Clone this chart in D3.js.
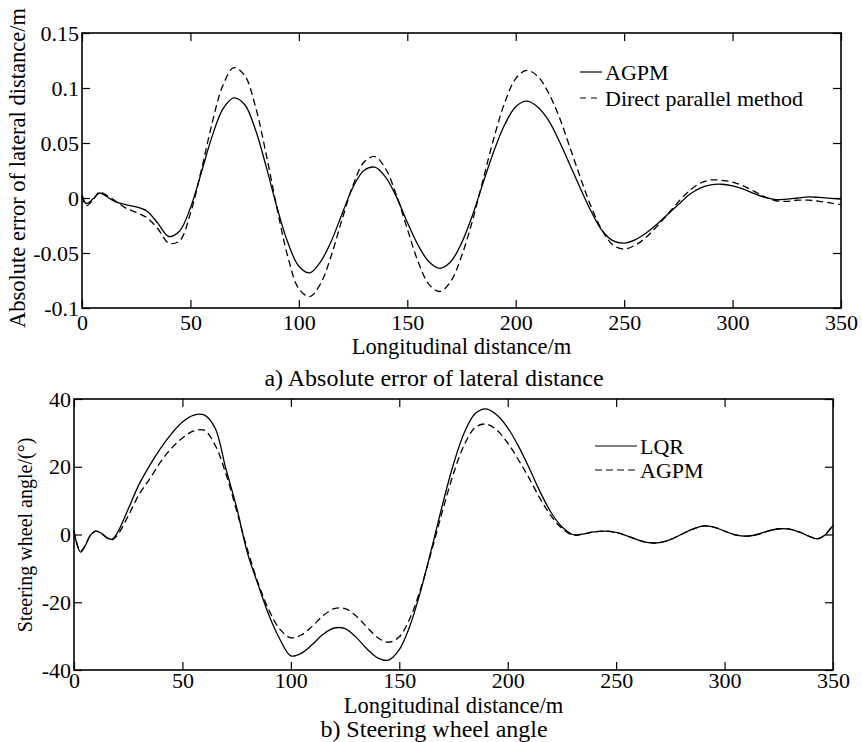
<!DOCTYPE html>
<html>
<head>
<meta charset="utf-8">
<script src="https://cdn.jsdelivr.net/npm/d3@7"></script>
<style>
  body { margin: 0; background: #fff; }
  svg { display: block; }
</style>
</head>
<body>
<div id="chart"></div>
<script>
// ---- data: a) absolute error of lateral distance ----
const errDist = [0, 2, 5, 8, 10, 15, 20, 25, 30, 35, 40, 45, 50, 55, 60, 65, 70, 75, 80, 85, 90, 95,
  100, 105, 110, 115, 120, 125, 130, 135, 140, 145, 150, 155, 160, 165, 170, 175, 180, 185, 190, 195,
  200, 205, 210, 215, 220, 225, 230, 235, 240, 245, 250, 255, 260, 265, 270, 275, 280, 285, 290, 295,
  300, 305, 310, 315, 320, 325, 330, 335, 340, 345, 350];
const errAGPM = [0.003, -0.005, -0.001, 0.0045, 0.003, -0.003, -0.006, -0.008, -0.012, -0.023, -0.035, -0.030,
  -0.009, 0.023, 0.056, 0.081, 0.091, 0.085, 0.062, 0.028, -0.009, -0.041,
  -0.062, -0.068, -0.058, -0.039, -0.014, 0.010, 0.025, 0.028, 0.019, 0.001, -0.022, -0.043, -0.058, -0.064,
  -0.058, -0.041, -0.016, 0.014, 0.043, 0.067,
  0.083, 0.088, 0.083, 0.071, 0.052, 0.030, 0.008, -0.013, -0.030, -0.039, -0.041, -0.038, -0.032, -0.024,
  -0.015, -0.006, 0.003, 0.009, 0.012, 0.0125,
  0.011, 0.008, 0.004, 0.0005, -0.0015, -0.001, 0.0, 0.001, 0.0005, -0.0003, -0.001];
const errDirect = [0.002, -0.007, -0.002, 0.0055, 0.004, -0.002, -0.009, -0.013, -0.018, -0.028, -0.041, -0.039,
  -0.014, 0.025, 0.068, 0.1025, 0.1185, 0.1115, 0.083, 0.039, -0.010, -0.054,
  -0.0825, -0.0897, -0.078, -0.052, -0.019, 0.0116, 0.0325, 0.0377, 0.0266, 0.0025, -0.028, -0.058, -0.0785, -0.085,
  -0.076, -0.053, -0.021, 0.017, 0.055, 0.087,
  0.1085, 0.116, 0.111, 0.096, 0.074, 0.046, 0.0175, -0.009, -0.030, -0.043, -0.0464, -0.043, -0.036, -0.026,
  -0.015, -0.0035, 0.0064, 0.0134, 0.0164, 0.016,
  0.0145, 0.011, 0.006, 0.001, -0.0025, -0.003, -0.002, -0.002, -0.003, -0.0045, -0.006];
const errTicks = [-0.1, -0.05, 0, 0.05, 0.1, 0.15];

// ---- data: b) steering wheel angle ----
const steerDist = [0, 1, 3, 5, 7.5, 10, 12.5, 15, 17.5, 20, 25, 30, 35, 40, 45, 50, 55, 60, 65, 70, 75, 80, 85, 90, 95,
  100, 105, 110, 115, 120, 125, 130, 135, 140, 145, 150, 155, 160, 165, 170, 175, 180, 185, 190, 195,
  200, 205, 210, 215, 220, 225, 230, 235, 240, 245, 250, 255, 260, 265, 270, 275, 280, 285, 290, 295,
  300, 305, 310, 315, 320, 325, 330, 335, 340, 343, 346, 350];
const steerLQR = [1.0, -2.0, -5.2, -3.5, -0.3, 1.0, 0.4, -0.9, -1.4, 0.5, 7.5, 14.8, 20.5, 25.5, 29.8, 33.2, 35.2, 35.3,
  31.5, 19.5, 8, -5.5, -15, -24, -31,
  -35.8, -35.0, -32.4, -29.4, -27.6, -27.8, -30.3, -33.7, -36.4, -37.1, -34.0, -26.8, -16.3, -3.9, 9.0, 20.8, 30.1, 35.7, 37.1, 35.3,
  31.5, 26.0, 19.5, 12.5, 6.5, 2.3, 0.0, 0.2, 0.8, 1.0, 0.6, -0.4, -1.6, -2.4, -2.4, -1.5, 0.0, 1.5, 2.5, 2.2,
  1.0, -0.1, -0.5, 0.0, 1.0, 1.7, 1.6, 0.6, -0.8, -1.3, -0.3, 2.7];
const steerAGPM = [1.0, -2.0, -5.0, -3.4, -0.3, 1.0, 0.4, -0.9, -1.5, -0.2, 5.5, 11.8, 16.5, 21.5, 25.5, 28.5, 30.5, 30.8,
  26.5, 18, 7, -4.5, -14.5, -22.5, -28,
  -30.5, -29.6, -27.0, -23.9, -21.9, -21.9, -24.0, -27.3, -30.4, -31.8, -30.2, -24.6, -15.7, -4.6, 7.1, 18.0, 26.5, 31.6, 32.6, 30.8,
  27.0, 22.0, 16.5, 10.5, 5.5, 1.8, -0.2, 0.2, 0.8, 1.0, 0.6, -0.4, -1.6, -2.4, -2.4, -1.5, 0.0, 1.5, 2.5, 2.2,
  1.0, -0.1, -0.5, 0.0, 1.0, 1.7, 1.6, 0.6, -0.8, -1.3, -0.3, 2.7];
const steerTicks = [-40, -20, 0, 20, 40];

const distTicks = [0, 50, 100, 150, 200, 250, 300, 350];

const FONT = '"Liberation Serif", "Times New Roman", serif';

const svg = d3.select("#chart")
    .append("svg")
    .attr("width", 862)
    .attr("height", 742);

// one framed panel with matlab-like inward ticks on all four sides
function draw_panel(p) {
    const x = d3.scaleLinear().domain([0, 350]).range([p.left, p.right]);
    const y = d3.scaleLinear().domain(p.yDomain).range([p.bottom, p.top]);
    const g = svg.append("g");

    const line = d3.line()
        .x(d => x(d[0]))
        .y(d => y(d[1]))
        .curve(d3.curveCatmullRom.alpha(0.5));

    p.series.forEach(s => {
        g.append("path")
            .datum(p.xs.map((d, i) => [d, s.values[i]]))
            .attr("d", line)
            .attr("fill", "none")
            .attr("stroke", "#000")
            .attr("stroke-width", 1.3)
            .attr("stroke-dasharray", s.dash ? "7,4" : null);
    });

    const styleAxis = sel => {
        sel.select(".domain").remove();
        sel.selectAll("line").attr("stroke", "#000").attr("stroke-width", 1.2);
        sel.selectAll("text")
            .attr("font-family", FONT)
            .attr("font-size", 22)
            .attr("fill", "#000");
    };

    g.append("g")
        .attr("transform", `translate(0,${p.bottom})`)
        .call(d3.axisBottom(x).tickValues(distTicks).tickSize(-8).tickPadding(p.xPad))
        .call(styleAxis);
    g.append("g")
        .attr("transform", `translate(0,${p.top})`)
        .call(d3.axisTop(x).tickValues(distTicks).tickSize(-8).tickFormat(""))
        .call(styleAxis);
    g.append("g")
        .attr("transform", `translate(${p.left},0)`)
        .call(d3.axisLeft(y).tickValues(p.yTicks).tickSize(-8).tickPadding(3).tickFormat(d => String(d)))
        .call(styleAxis);
    g.append("g")
        .attr("transform", `translate(${p.right},0)`)
        .call(d3.axisRight(y).tickValues(p.yTicks).tickSize(-8).tickFormat(""))
        .call(styleAxis);

    // frame
    g.append("rect")
        .attr("x", p.left)
        .attr("y", p.top)
        .attr("width", p.right - p.left)
        .attr("height", p.bottom - p.top)
        .attr("fill", "none")
        .attr("stroke", "#000")
        .attr("stroke-width", 1.6);

    // legend, no box
    p.legend.forEach((item, i) => {
        const ly = p.legendY[i];
        g.append("line")
            .attr("x1", p.legendX[0]).attr("x2", p.legendX[1])
            .attr("y1", ly).attr("y2", ly)
            .attr("stroke", "#000")
            .attr("stroke-width", 1.2)
            .attr("stroke-dasharray", item.dash ? p.legendDash : null);
        g.append("text")
            .attr("x", p.legendX[1] + 3)
            .attr("y", ly)
            .attr("dy", "0.35em")
            .attr("font-family", FONT)
            .attr("font-size", 22)
            .text(item.name);
    });

    // axis labels and caption
    g.append("text")
        .attr("x", (p.left + p.right) / 2)
        .attr("y", p.bottom + p.xLabelOffset)
        .attr("dy", "0.35em")
        .attr("text-anchor", "middle")
        .attr("font-family", FONT)
        .attr("font-size", 22.5)
        .text("Longitudinal distance/m");

    g.append("text")
        .attr("transform", `translate(${p.yLabelX},${p.yLabelY}) rotate(-90)`)
        .attr("dy", "0.35em")
        .attr("text-anchor", "middle")
        .attr("font-family", FONT)
        .attr("font-size", p.yLabelSize)
        .text(p.yLabel);

    g.append("text")
        .attr("x", 434)
        .attr("y", p.captionY)
        .attr("dy", "0.35em")
        .attr("text-anchor", "middle")
        .attr("font-family", FONT)
        .attr("font-size", 24)
        .text(p.caption);
}

draw_panel({
    left: 82, right: 841, top: 33, bottom: 308,
    yDomain: [-0.1, 0.15], yTicks: errTicks, xPad: 6,
    xs: errDist,
    series: [{ values: errAGPM, dash: false }, { values: errDirect, dash: true }],
    legend: [{ name: "AGPM", dash: false }, { name: "Direct parallel method", dash: true }],
    legendX: [580, 602], legendY: [72, 98], legendDash: "6,5",
    xLabelOffset: 38,
    yLabel: "Absolute error of lateral distance/m", yLabelX: 17, yLabelY: 168, yLabelSize: 22.5,
    caption: "a) Absolute error of lateral distance", captionY: 378
});

draw_panel({
    left: 74, right: 833, top: 399, bottom: 670,
    yDomain: [-40, 40], yTicks: steerTicks, xPad: 2,
    xs: steerDist,
    series: [{ values: steerLQR, dash: false }, { values: steerAGPM, dash: true }],
    legend: [{ name: "LQR", dash: false }, { name: "AGPM", dash: true }],
    legendX: [595, 637], legendY: [446, 470], legendDash: "7,4",
    xLabelOffset: 35,
    yLabel: "Steering wheel angle/(°)", yLabelX: 25, yLabelY: 535, yLabelSize: 20,
    caption: "b) Steering wheel angle", captionY: 729
});
</script>
</body>
</html>
